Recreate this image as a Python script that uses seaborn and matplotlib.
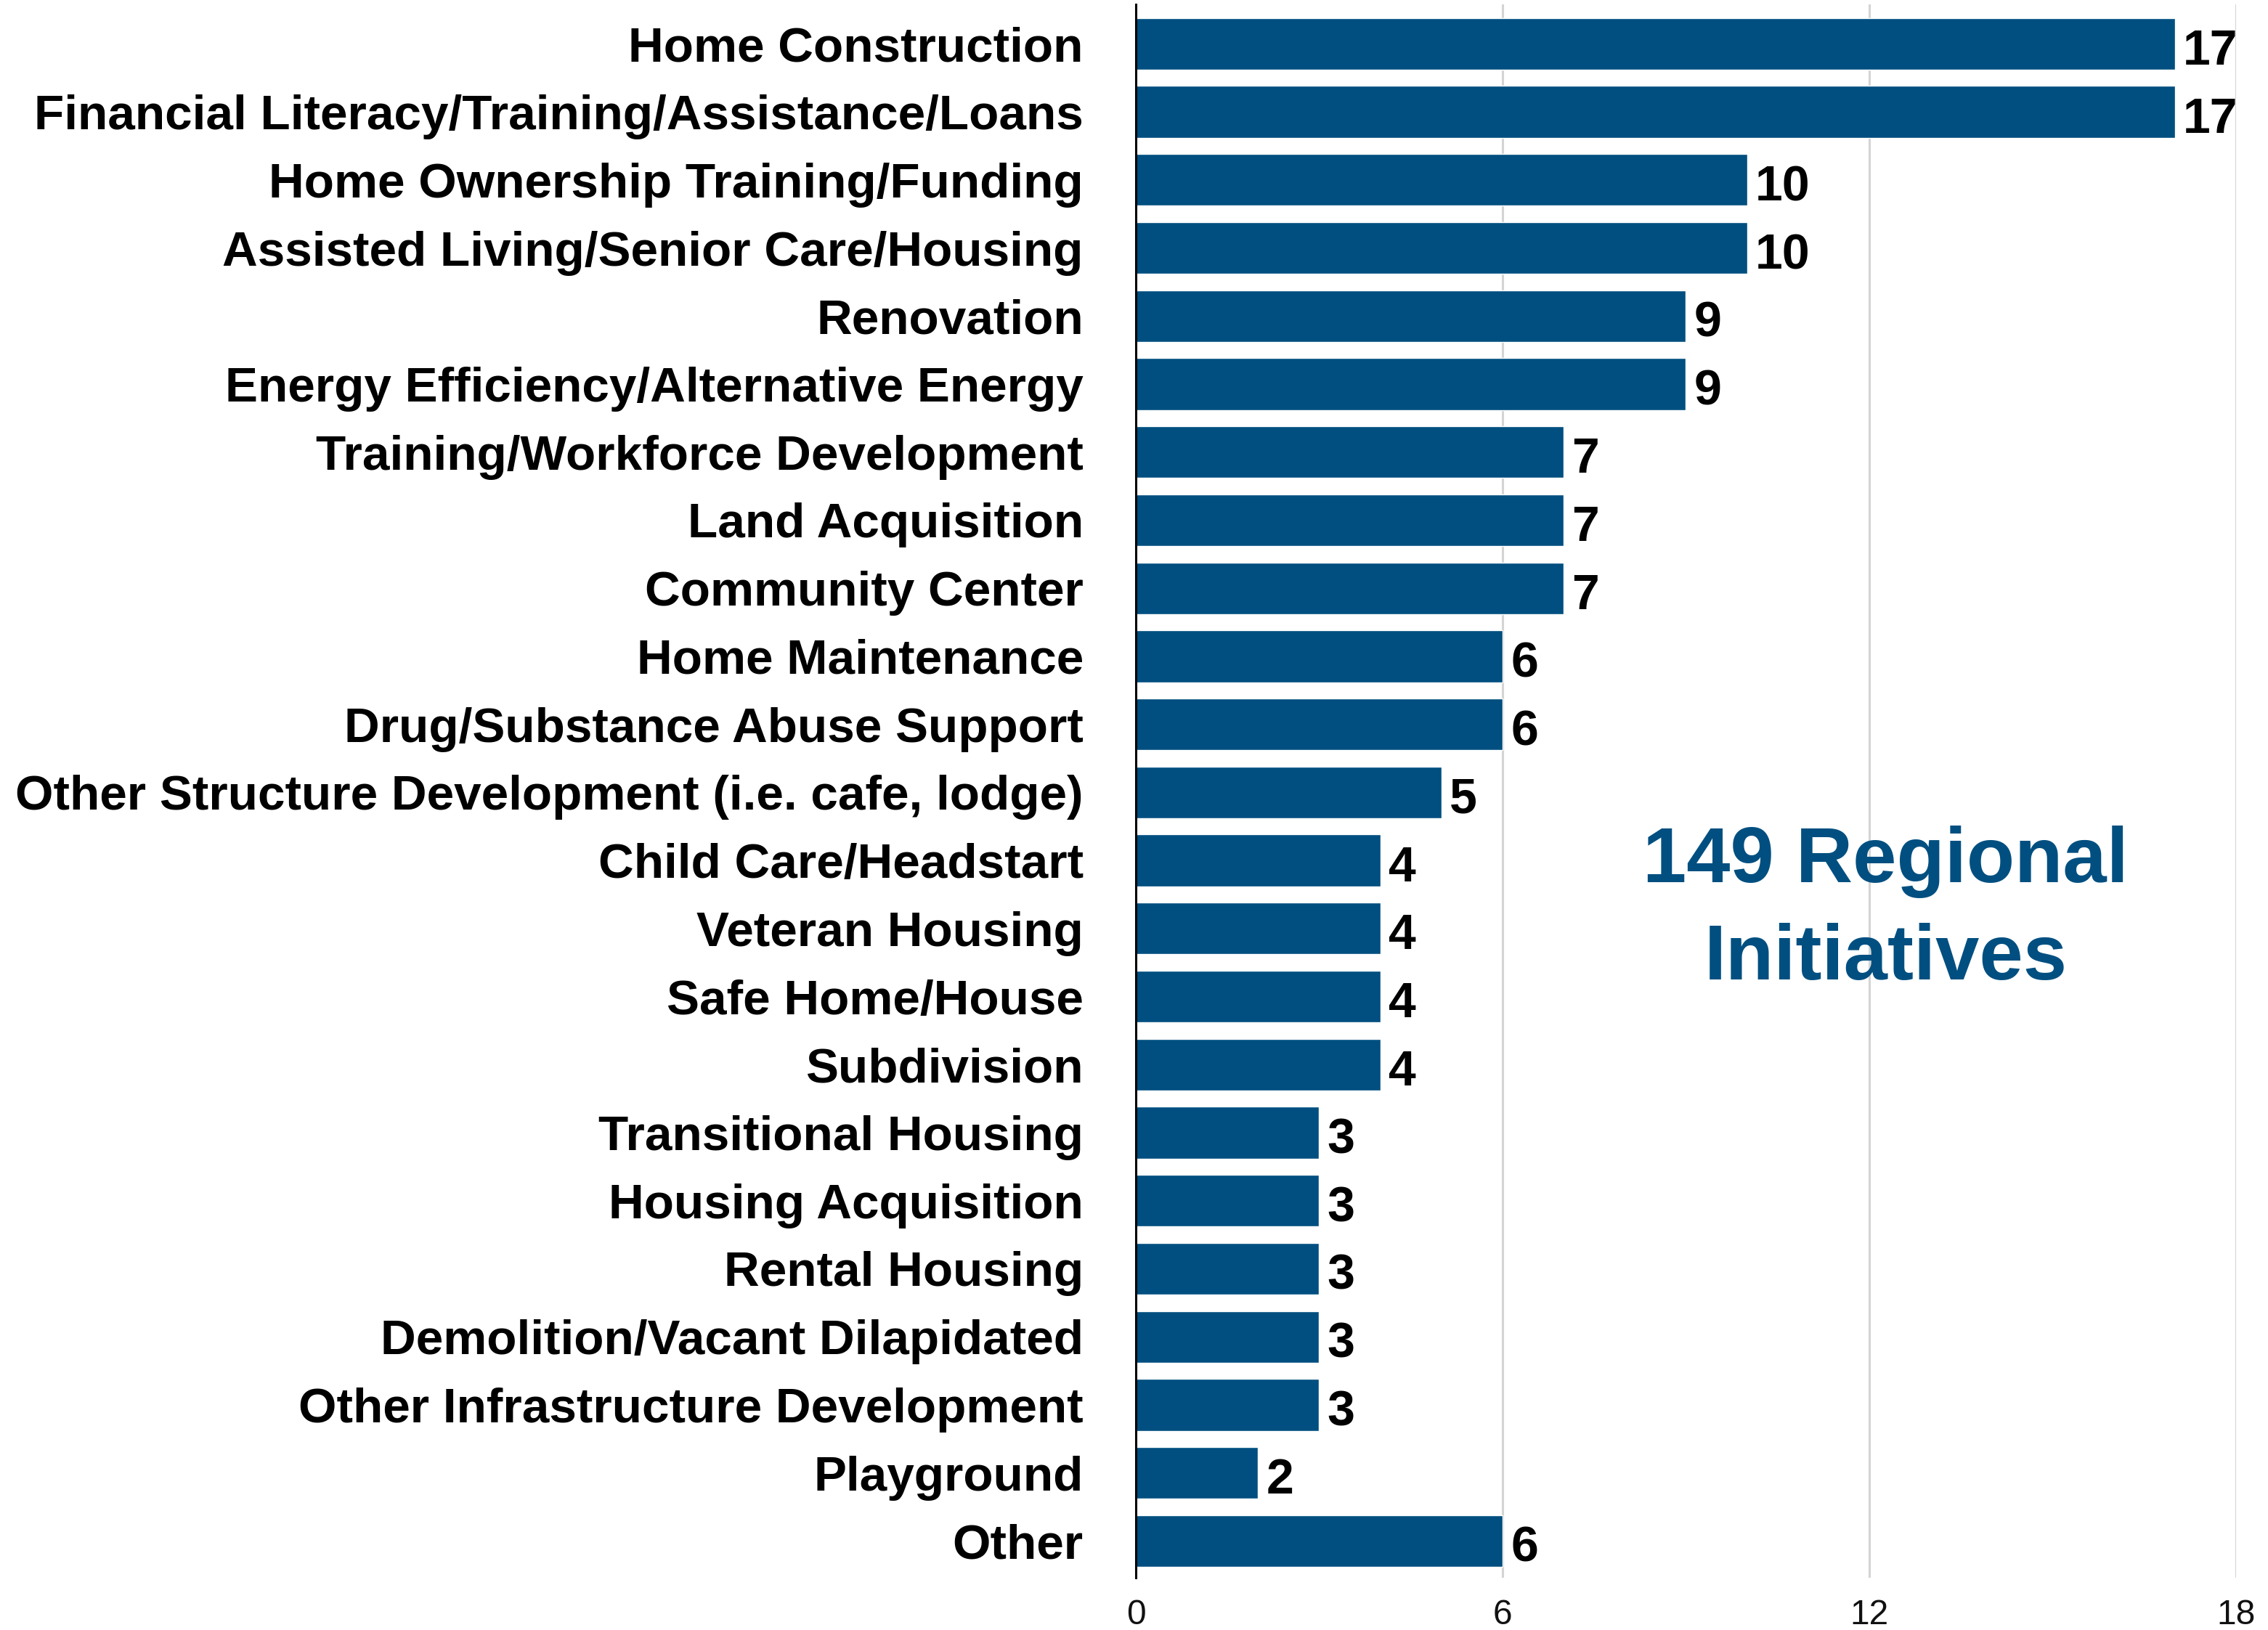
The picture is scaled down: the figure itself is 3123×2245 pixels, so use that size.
import matplotlib
matplotlib.use("Agg")
import matplotlib.pyplot as plt
import seaborn as sns
import pandas as pd

# Initiative categories and counts
categories = [
    "Home Construction",
    "Financial Literacy/Training/Assistance/Loans",
    "Home Ownership Training/Funding",
    "Assisted Living/Senior Care/Housing",
    "Renovation",
    "Energy Efficiency/Alternative Energy",
    "Training/Workforce Development",
    "Land Acquisition",
    "Community Center",
    "Home Maintenance",
    "Drug/Substance Abuse Support",
    "Other Structure Development (i.e. cafe, lodge)",
    "Child Care/Headstart",
    "Veteran Housing",
    "Safe Home/House",
    "Subdivision",
    "Transitional Housing",
    "Housing Acquisition",
    "Rental Housing",
    "Demolition/Vacant Dilapidated",
    "Other Infrastructure Development",
    "Playground",
    "Other",
]
counts = [17, 17, 10, 10, 9, 9, 7, 7, 7, 6, 6, 5, 4, 4, 4, 4, 3, 3, 3, 3, 3, 2, 6]
x_ticks = [0, 6, 12, 18]

BAR_COLOR = "#004f80"

sns.set_theme(style="white")
plt.rcParams["font.family"] = ["Liberation Sans", "DejaVu Sans"]

df = pd.DataFrame({"category": categories, "count": counts})

fig = plt.figure(figsize=(31.23, 22.45), dpi=100)
ax = fig.add_axes([0.5008, 0.03207, 0.48511, 0.96526])

sns.barplot(data=df, x="count", y="category", orient="h", color=BAR_COLOR,
            saturation=1, width=0.76, ax=ax, zorder=2)

ax.set_xlim(0, 18)
ax.set_ylim(len(categories) - 1 + 0.54, -0.58)
ax.set_xticks(x_ticks)
ax.set_xticklabels([str(t) for t in x_ticks])
ax.set_xlabel("")
ax.set_ylabel("")

# light vertical grid behind the bars
ax.xaxis.grid(True, color="#d4d4d4", linewidth=2.2, zorder=0)
ax.yaxis.grid(False)
ax.set_axisbelow(True)

for side in ["top", "right", "bottom"]:
    ax.spines[side].set_visible(False)
ax.spines["left"].set_color("black")
ax.spines["left"].set_linewidth(2.2)
ax.spines["left"].set_zorder(3)

ax.tick_params(axis="y", length=0, pad=52, labelsize=48.6, labelcolor="black")
ax.tick_params(axis="x", length=0, pad=21, labelsize=34.5, labelcolor="#111111")
for lbl in ax.get_yticklabels():
    lbl.set_fontweight("bold")

# value labels at the end of each bar
for i, v in enumerate(counts):
    ax.annotate(str(v), xy=(v, i), xytext=(8, -20.5), textcoords="offset points",
                ha="left", va="baseline", fontsize=49, fontweight="bold",
                color="black", zorder=4)

# total count callout
total = sum(counts)
ax.text(12.27, 12.32, f"{total} Regional", ha="center", va="baseline",
        fontsize=78, fontweight="bold", color=BAR_COLOR, zorder=4)
ax.text(12.27, 13.75, "Initiatives", ha="center", va="baseline",
        fontsize=78, fontweight="bold", color=BAR_COLOR, zorder=4)

fig.savefig("out.png", dpi=100, facecolor="white")
